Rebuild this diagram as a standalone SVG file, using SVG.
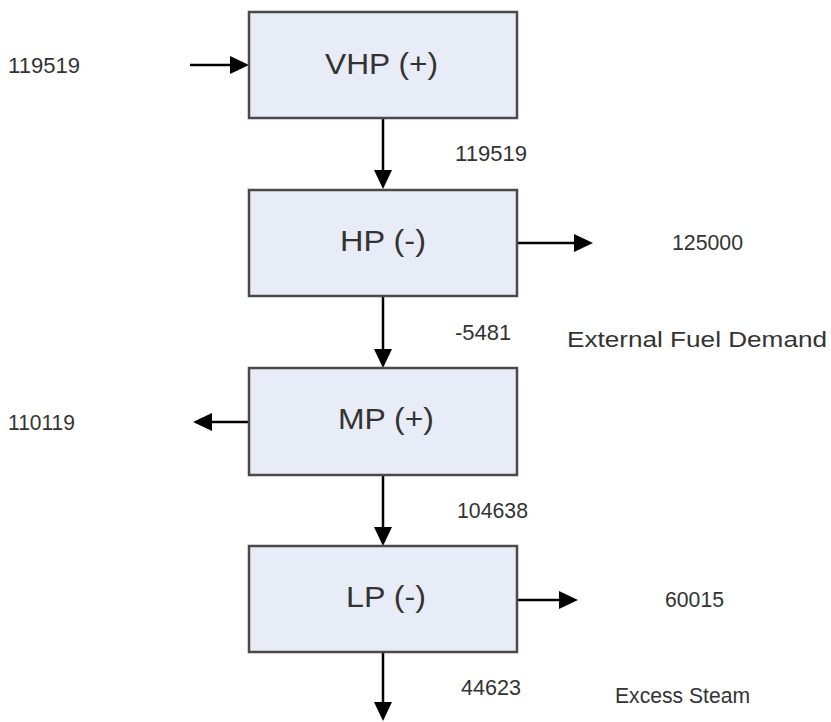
<svg xmlns="http://www.w3.org/2000/svg" width="831" height="722" viewBox="0 0 831 722">
<defs>
<style>
.box{fill:#e8ecf6;stroke:#4a4a4a;stroke-width:2.5}
.lbl{font-family:"Liberation Sans",Arial,sans-serif;font-size:29px;fill:#333}
.t{font-family:"Liberation Sans",Arial,sans-serif;font-size:22px;fill:#333}
.ln{stroke:#000;stroke-width:2.5;fill:none}
.hd{fill:#000}
</style>
</defs>
<rect width="831" height="722" fill="#fff"/>
<g id="connectors">
<line class="ln" x1="190" y1="65" x2="235" y2="65"/><path class="hd" d="M249,65 L230,56 L230,74 Z"/>
<line class="ln" x1="383" y1="118" x2="383" y2="175"/><path class="hd" d="M383,189 L374,170 L392,170 Z"/>
<line class="ln" x1="517" y1="243" x2="578" y2="243"/><path class="hd" d="M593,243 L574,234 L574,252 Z"/>
<line class="ln" x1="383" y1="296" x2="383" y2="354"/><path class="hd" d="M383,368 L374,349 L392,349 Z"/>
<line class="ln" x1="248" y1="422" x2="207" y2="422"/><path class="hd" d="M193,422 L212,413 L212,431 Z"/>
<line class="ln" x1="383" y1="475" x2="383" y2="532"/><path class="hd" d="M383,546 L374,527 L392,527 Z"/>
<line class="ln" x1="517" y1="600" x2="563" y2="600"/><path class="hd" d="M578,600 L559,591 L559,609 Z"/>
<line class="ln" x1="383" y1="652" x2="383" y2="706"/><path class="hd" d="M383,721 L374,702 L392,702 Z"/>
</g>
<g id="vhp"><rect class="box" x="249" y="12" width="268" height="106"/><text class="lbl" x="325" y="74" textLength="113" lengthAdjust="spacingAndGlyphs">VHP (+)</text></g>
<g id="hp"><rect class="box" x="249" y="190" width="268" height="106"/><text class="lbl" x="340" y="251" textLength="86" lengthAdjust="spacingAndGlyphs">HP (-)</text></g>
<g id="mp"><rect class="box" x="249" y="368" width="268" height="107"/><text class="lbl" x="338" y="429" textLength="96" lengthAdjust="spacingAndGlyphs">MP (+)</text></g>
<g id="lp"><rect class="box" x="249" y="546" width="268" height="106"/><text class="lbl" x="346" y="607" textLength="80" lengthAdjust="spacingAndGlyphs">LP (-)</text></g>
<g id="labels">
<text class="t" x="8" y="73" textLength="72" lengthAdjust="spacingAndGlyphs">119519</text>
<text class="t" x="455" y="161" textLength="72" lengthAdjust="spacingAndGlyphs">119519</text>
<text class="t" x="672" y="250" textLength="71" lengthAdjust="spacingAndGlyphs">125000</text>
<text class="t" x="455" y="340">-5481</text>
<text class="t" x="567" y="347" textLength="260" lengthAdjust="spacingAndGlyphs">External Fuel Demand</text>
<text class="t" x="8" y="430" textLength="67" lengthAdjust="spacingAndGlyphs">110119</text>
<text class="t" x="457" y="518" textLength="71" lengthAdjust="spacingAndGlyphs">104638</text>
<text class="t" x="665" y="607" textLength="59" lengthAdjust="spacingAndGlyphs">60015</text>
<text class="t" x="461" y="695" textLength="60" lengthAdjust="spacingAndGlyphs">44623</text>
<text class="t" x="615" y="703" textLength="135" lengthAdjust="spacingAndGlyphs">Excess Steam</text>
</g>
</svg>
